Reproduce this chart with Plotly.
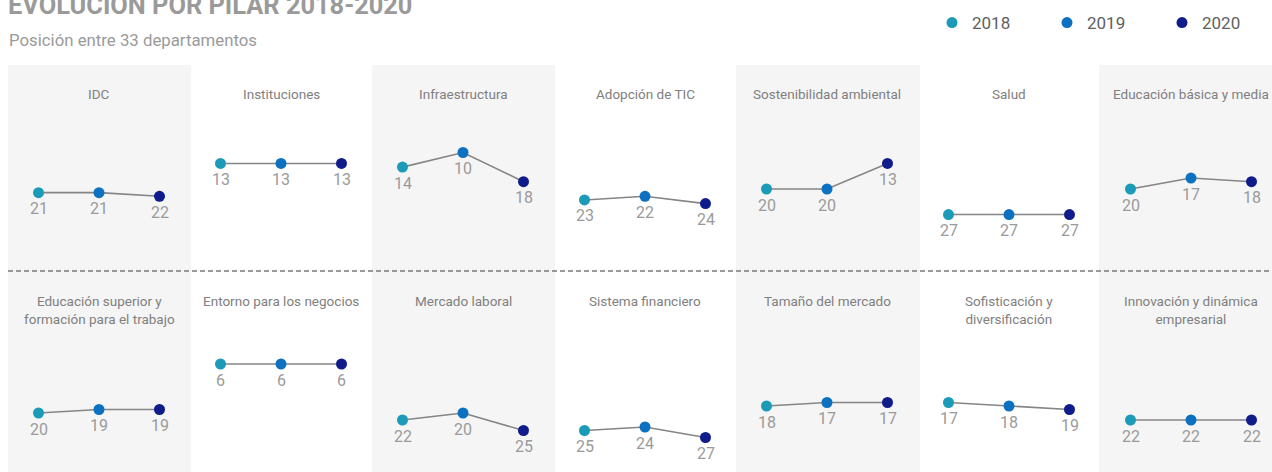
import plotly.graph_objects as go

# ---------------- data ----------------
pillars = [
    "IDC", "Instituciones", "Infraestructura", "Adopción de TIC",
    "Sostenibilidad ambiental", "Salud", "Educación básica y media",
    "Educación superior y<br>formación para el trabajo",
    "Entorno para los negocios", "Mercado laboral", "Sistema financiero",
    "Tamaño del mercado", "Sofisticación y<br>diversificación",
    "Innovación y dinámica<br>empresarial",
]
years = [2018, 2019, 2020]
rank_2018 = [21, 13, 14, 23, 20, 27, 20, 20, 6, 22, 25, 18, 17, 22]
rank_2019 = [21, 13, 10, 22, 20, 27, 17, 19, 6, 20, 24, 17, 18, 22]
rank_2020 = [22, 13, 18, 24, 13, 27, 18, 19, 6, 25, 27, 17, 19, 22]
year_colors = {2018: "#1b9bb8", 2019: "#0b71c0", 2020: "#0f1c8a"}

# ---------------- layout helpers (pixels -> paper) ----------------
W, H = 1280, 472
def px(x):
    return x / W
def py(y):
    return 1 - y / H

NCOL = 7
col_center = [99 + 182 * i for i in range(NCOL)]
half = 70            # half width of each x-domain in px
step = 60.5          # px per year
row_top = [116, 343]       # px of rank 0
row_scale = [3.65, 3.5]    # px per rank
RMAX = 33

fig = go.Figure()
layout = {}

ranks = list(zip(rank_2018, rank_2019, rank_2020))
for k, name in enumerate(pillars):
    row, col = divmod(k, NCOL)
    ax = "" if k == 0 else str(k + 1)
    xa, ya = "x" + ax, "y" + ax
    c = col_center[col]
    layout["xaxis" + ax] = dict(
        domain=[px(c - half), px(c + half)],
        range=[2019 - half / step, 2019 + half / step],
        visible=False, fixedrange=True, anchor=ya,
    )
    top = row_top[row]
    bottom = top + row_scale[row] * RMAX
    layout["yaxis" + ax] = dict(
        domain=[py(bottom), py(top)],
        range=[RMAX, 0],
        visible=False, fixedrange=True, anchor=xa,
    )
    vals = list(ranks[k])
    fig.add_trace(go.Scatter(
        x=years, y=vals, mode="lines", xaxis=xa, yaxis=ya,
        line=dict(color="#858585", width=1.6), showlegend=False,
        hoverinfo="skip", cliponaxis=False,
    ))
    for yr, v in zip(years, vals):
        fig.add_trace(go.Scatter(
            x=[yr], y=[v], mode="markers", xaxis=xa, yaxis=ya,
            marker=dict(color=year_colors[yr], size=11),
            name=str(yr), legendgroup=str(yr), showlegend=(k == 0),
            cliponaxis=False,
        ))
        fig.add_annotation(
            x=yr, y=v, xref=xa, yref=ya, text=str(v), showarrow=False,
            xanchor="center", yanchor="middle", yshift=-16,
            font=dict(family="Roboto", size=16, color="#9a9a9a"),
        )
    # pillar title
    fig.add_annotation(
        text=name, xref="paper", yref="paper",
        x=px(c), y=py(84 if row == 0 else 291),
        xanchor="center", yanchor="top", showarrow=False,
        font=dict(family="Roboto", size=13.5, color="#808080"),
    )

# shaded columns
shapes = []
bounds = [8, 191, 372, 555, 736, 920, 1099, W + 5]
for i in range(0, NCOL, 2):
    shapes.append(dict(
        type="rect", xref="paper", yref="paper", layer="below",
        x0=px(bounds[i]), x1=px(bounds[i + 1]), y0=py(65), y1=py(H + 5),
        fillcolor="#f5f5f5", line=dict(width=0),
    ))
# dashed separator
shapes.append(dict(
    type="line", xref="paper", yref="paper",
    x0=px(8), x1=px(W + 5), y0=py(271), y1=py(271),
    line=dict(color="#7a7a7a", width=1.5, dash="5px,3px"),
))

fig.add_annotation(
    text="<b>EVOLUCIÓN POR PILAR 2018-2020</b>", xref="paper", yref="paper",
    x=px(6), y=py(5), xanchor="left", yanchor="middle", showarrow=False,
    font=dict(family="Roboto", size=25.4, color="#9a9a9a"),
)
fig.add_annotation(
    text="Posición entre 33 departamentos", xref="paper", yref="paper",
    x=px(7), y=py(40), xanchor="left", yanchor="middle", showarrow=False,
    font=dict(family="Roboto", size=16.8, color="#9a9a9a"),
)

fig.update_layout(
    **layout,
    width=W, height=H, autosize=False,
    margin=dict(l=0, r=0, t=0, b=0, autoexpand=False),
    paper_bgcolor="white", plot_bgcolor="rgba(0,0,0,0)",
    shapes=shapes,
    showlegend=True,
    legend=dict(
        orientation="h", x=px(932), xanchor="left", y=py(23), yanchor="middle",
        entrywidth=70, entrywidthmode="pixels",
        font=dict(family="Roboto", size=17, color="#606060"),
        bgcolor="rgba(0,0,0,0)",
    ),
)

# place the figure at the page's top-left corner without scrollbars
post = ("document.body.style.margin='0';"
        "document.body.style.overflow='hidden';"
        "document.documentElement.style.overflow='hidden';")
fig.write_html("out.html", post_script=post,
               config={"displayModeBar": False, "responsive": False})
